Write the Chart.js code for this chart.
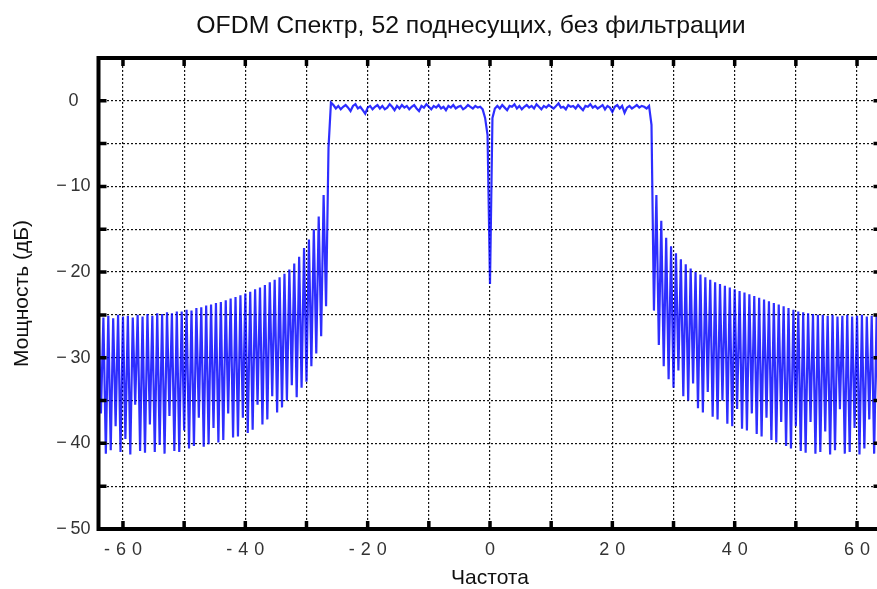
<!DOCTYPE html>
<html lang="ru">
<head>
  <meta charset="UTF-8">
  <script src="https://cdn.jsdelivr.net/npm/chart.js"></script>
  <style>
    body, html {
      margin: 0;
      padding: 0;
      overflow: hidden;
      background: #fff;
    }
    .chart-box {
      width: 942px;
      height: 589px;
    }
  </style>
</head>
<body>
  <div class="chart-box">
    <canvas id="spectrum-chart" width="942" height="589"></canvas>
  </div>
  <script>
    // frequency bins: first bin and bin width (FFT grid)
    const firstBin = -64;
    const binWidth = 0.4;

    // power, dB
    const leftSidelobes = [
      -25.0, -36.5, -25.3, -41.2, -25.1, -40.8, -25.4, -38.0, -25.0, -41.0,
      -25.2, -39.5, -25.1, -41.3, -25.3, -35.5, -25.0, -40.9, -25.2, -41.1,
      -24.9, -37.8, -25.1, -41.0, -24.8, -40.2, -24.9, -41.2, -24.7, -36.8,
      -24.8, -40.9, -24.6, -41.0, -24.6, -38.5, -24.4, -40.6, -24.5, -40.3,
      -24.2, -37.0, -24.1, -40.4, -23.9, -40.1, -23.8, -38.2, -23.6, -39.9,
      -23.5, -39.6, -23.3, -36.5, -23.1, -39.3, -22.9, -39.2, -22.7, -37.0,
      -22.5, -38.8, -22.3, -38.4, -22.0, -35.5, -21.8, -37.8, -21.5, -37.2,
      -21.2, -34.5, -20.9, -36.4, -20.6, -35.8, -20.2, -35.0, -19.7, -33.2,
      -19.0, -34.6, -18.2, -33.5, -17.2, -32.8, -16.2, -31.0, -15.0, -29.5,
      -13.5, -27.5, -11.0, -24.0
    ];
    const passbandLeft = [
      -5.5,
      -0.2, -0.5, -0.9, -0.6, -1.0, -0.7, -0.5, -0.8, -1.2, -0.6,
      -0.4, -0.9, -0.7, -1.1, -1.5, -0.8, -0.6, -1.0, -0.7, -0.5,
      -0.9, -0.6, -1.0, -0.8, -0.4, -0.7, -1.1, -0.6, -0.9, -0.5,
      -0.8, -0.6, -1.0, -0.7, -0.5, -0.9, -1.2, -0.6, -0.8, -0.4,
      -0.7, -1.0, -0.6, -0.8, -0.5, -0.9, -0.7, -1.1, -0.6, -0.8,
      -0.5, -0.9, -0.7, -0.6, -1.0, -0.8, -0.5, -0.7, -0.9, -0.6,
      -0.8, -0.7,
      -1.0, -2.0
    ];
    const dcNotch = [-4.0, -21.4, -2.0];
    const passbandRight = [
      -0.9,
      -0.6, -0.9, -0.5, -0.8, -1.1, -0.6, -0.7, -0.4, -0.9, -0.6,
      -1.0, -0.7, -0.5, -0.8, -0.6, -0.9, -0.4, -0.7, -1.0, -0.6,
      -0.8, -0.5, -0.7, -0.9, -0.6, -0.3, -0.8, -0.7, -1.0, -0.5,
      -0.7, -0.6, -0.9, -0.5, -0.8, -1.1, -0.6, -0.7, -0.4, -0.8,
      -0.6, -0.9, -0.7, -0.5, -1.0, -0.6, -0.8, -1.3, -0.7, -0.5,
      -0.9, -0.6, -1.4, -0.8, -0.6, -0.9, -0.7, -0.5, -0.8, -0.6,
      -0.7, -0.9, -0.6,
      -2.8
    ];
    const rightSidelobes = [
      -24.5,
      -11.0, -28.5, -14.0, -31.0, -16.0, -32.5, -17.0, -33.5, -17.8, -31.5,
      -18.5, -34.5, -19.1, -35.0, -19.6, -33.0, -20.0, -35.9, -20.3, -36.4,
      -20.6, -34.0, -20.9, -36.9, -21.2, -37.2, -21.4, -35.0, -21.6, -37.7,
      -21.8, -38.0, -22.0, -36.0, -22.2, -38.3, -22.4, -38.5, -22.6, -36.5,
      -22.8, -38.9, -23.0, -39.2, -23.2, -37.0, -23.4, -39.6, -23.6, -39.9,
      -23.8, -37.5, -24.0, -40.3, -24.2, -40.6, -24.4, -38.0, -24.6, -40.9,
      -24.7, -41.1, -24.8, -37.5, -24.9, -41.2, -25.0, -41.0, -25.0, -38.6,
      -25.1, -41.3, -25.0, -40.8, -25.2, -36.0, -25.1, -41.2, -25.0, -41.0,
      -25.2, -38.2, -25.1, -41.3, -25.0, -40.6, -25.2, -37.2, -25.1, -41.2,
      -25.0, -40.9,
      -25.1
    ];

    // axis ticks
    const xGridValues = [-60, -50, -40, -30, -20, -10, 0, 10, 20, 30, 40, 50, 60];
    const xLabelValues = [-60, -40, -20, 0, 20, 40, 60];
    const yGridValues = [-50, -45, -40, -35, -30, -25, -20, -15, -10, -5, 0, 5];
    const yLabelValues = [-50, -40, -30, -20, -10, 0];

    const power = [...leftSidelobes, ...passbandLeft, ...dcNotch, ...passbandRight, ...rightSidelobes];
    const points = power.map((p, i) => ({ x: firstBin + i * binWidth, y: p }));

    const fontFamily = "'Liberation Sans', Arial, sans-serif";

    function xLabel(v) {
      const s = String(Math.abs(v)).split('').join('\u2004');
      return v < 0 ? '-\u2004' + s : s;
    }
    function yLabel(v) {
      return v < 0 ? '\u2212\u2009' + Math.abs(v) : String(v);
    }

    // black frame with inward tick marks, like the original plot
    const framePlugin = {
      id: 'frame',
      afterDraw(chart) {
        const { ctx, chartArea: a, scales: { x, y } } = chart;
        ctx.save();
        ctx.strokeStyle = '#000';
        ctx.lineWidth = 4;
        ctx.beginPath();
        ctx.rect(a.left, a.top, a.right - a.left, a.bottom - a.top);
        ctx.stroke();

        ctx.lineWidth = 3.5;
        ctx.beginPath();
        xGridValues.forEach(v => {
          const px = x.getPixelForValue(v);
          ctx.moveTo(px, a.top); ctx.lineTo(px, a.top + 8);
          ctx.moveTo(px, a.bottom); ctx.lineTo(px, a.bottom - 8);
        });
        yGridValues.forEach(v => {
          if (v <= -50 || v >= 5) return;
          const py = y.getPixelForValue(v);
          ctx.moveTo(a.left, py); ctx.lineTo(a.left + 8, py);
          ctx.moveTo(a.right, py); ctx.lineTo(a.right - 8, py);
        });
        ctx.stroke();
        ctx.restore();
      }
    };

    new Chart(document.getElementById('spectrum-chart'), {
      type: 'line',
      data: {
        datasets: [{
          data: points,
          borderColor: 'rgba(0, 0, 255, 0.82)',
          borderWidth: 2.2,
          pointRadius: 0,
          tension: 0,
          fill: false
        }]
      },
      options: {
        responsive: false,
        animation: false,
        devicePixelRatio: 1,
        layout: { padding: 0 },
        plugins: {
          legend: { display: false },
          tooltip: { enabled: false },
          title: {
            display: true,
            text: 'OFDM Спектр, 52 поднесущих, без фильтрации',
            color: '#111',
            font: { family: fontFamily, size: 24.8, weight: 'normal' },
            padding: { top: 11, bottom: 17.2 }
          }
        },
        scales: {
          x: {
            type: 'linear',
            position: 'bottom',
            min: -64,
            max: 64,
            z: 1,
            afterBuildTicks: s => { s.ticks = xGridValues.map(v => ({ value: v })); },
            afterFit: s => { s.height = 60; },
            ticks: {
              autoSkip: false,
              maxRotation: 0,
              padding: 10,
              color: '#333',
              font: { family: fontFamily, size: 18 },
              callback: v => xLabelValues.includes(v) ? xLabel(v) : ''
            },
            grid: { color: '#111', lineWidth: 1.2, drawTicks: false },
            border: { display: false, dash: [2, 2] },
            title: {
              display: true,
              text: 'Частота',
              color: '#111',
              font: { family: fontFamily, size: 21, lineHeight: 1 },
              padding: { top: 0, bottom: 0 }
            }
          },
          y: {
            type: 'linear',
            min: -50,
            max: 5,
            z: 1,
            afterBuildTicks: s => { s.ticks = yGridValues.map(v => ({ value: v })); },
            afterFit: s => { s.width = 98.5; },
            ticks: {
              autoSkip: false,
              padding: 8,
              crossAlign: 'center',
              color: '#333',
              font: { family: fontFamily, size: 18 },
              callback: v => yLabelValues.includes(v) ? yLabel(v) : ''
            },
            grid: { color: '#111', lineWidth: 1.2, drawTicks: false },
            border: { display: false, dash: [2, 2] },
            title: {
              display: true,
              text: 'Мощность (дБ)',
              color: '#111',
              font: { family: fontFamily, size: 21 },
              padding: { top: 9.4, bottom: 0 }
            }
          },
          // empty right-hand strip: the plot runs past the picture's right edge
          yRight: {
            type: 'linear',
            position: 'right',
            min: -50,
            max: 5,
            afterFit: s => { s.width = 60.5; },
            ticks: { display: false },
            grid: { display: false },
            border: { display: false }
          }
        }
      },
      plugins: [framePlugin]
    });
  </script>
</body>
</html>
